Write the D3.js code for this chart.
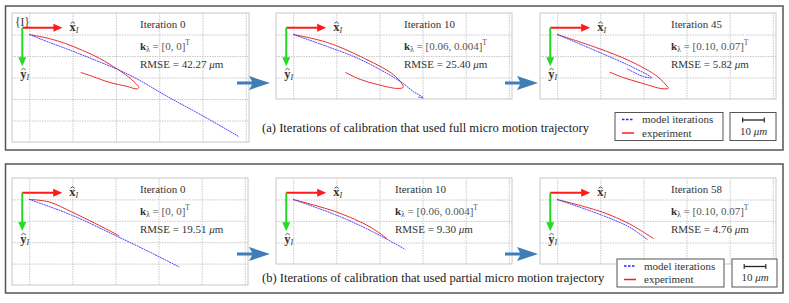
<!DOCTYPE html>
<html><head><meta charset="utf-8">
<script src="https://cdn.jsdelivr.net/npm/d3@7"></script>
<style>body{margin:0;background:#fff}</style>
</head><body><svg id="c" width="789" height="303"></svg>
<script>
// ---------------- data ----------------
const iterations = [0, 10, 45, 0, 10, 58];
const kLambda = ["[0, 0]", "[0.06, 0.004]", "[0.10, 0.07]", "[0, 0]", "[0.06, 0.004]", "[0.10, 0.07]"];
const rmse = ["42.27", "25.40", "5.82", "19.51", "9.30", "4.76"];
const captions = [
  "(a) Iterations of calibration that used full micro motion trajectory",
  "(b) Iterations of calibration that used partial micro motion trajectory"
];
const legendLabels = ["model iterations", "experiment"];
const scaleLabelValue = 10;
const xTicks = [0, 20, 40, 60, 80, 100];
const yTicksTall = [-10, 0, 10, 20, 30, 40, 50];
const yTicksMid = [-10, 0, 10, 20, 30, 40];
const yTicksShort = [-10, 0, 10, 20, 30];

// model trajectories (µm, relative to start)
const modelA0 = [[0,0],[9.3,3.7],[18.6,7.2],[27.9,10.9],[40.9,16.3],[50.2,20.9],[63.7,28.8],[79,37.2],[96.7,47.4]];
const modelA1 = [[0,0],[15.8,5.6],[31.1,11.6],[49.6,21.8],[55.7,26.5],[60.3,29.4],[57.8,29.0]];
const modelA2 = [[0,0],[18.4,7.8],[33.9,14.7],[43.9,20.1],[40.1,19.6],[32.3,15.9]];
const modelB0 = [[0,0],[19.8,7.4],[39.6,16.7],[55.7,24.5],[69.6,31.6]];
const modelB1 = [[0,0],[20.3,7.4],[35.7,14.4],[52,23.2]];
const modelB2 = [[0,0],[21,7.4],[33.4,12.8],[41.9,18.7]];
// experiment trajectories
const expA0 = [[0,0],[4.6,0.9],[9.3,1.9],[16.7,4.2],[24.6,7.4],[32.5,11.1],[40.8,16.2],[45.5,19.5],[48.7,22.3],[50.6,24.6],[49.7,25.3],[45,24.1],[37.1,22.3],[29.2,19.5],[23.7,17.6]];
const expA1 = [[0,0],[15.8,3.7],[31.1,10.2],[46.4,18.6],[50.6,23.2],[51.0,24.6],[48.3,25.1],[38.9,23.2],[31.1,20.9],[24.1,17.6]];
const expA2 = [[0,0],[18.4,6.2],[33.9,12.4],[46.3,19.4],[50.9,24],[51.5,25],[48.6,25.2],[38.5,22.4],[30.8,20.1],[24.3,17.5]];
const expB0 = [[0,0],[9.3,1.2],[19.8,5.9],[29.2,10.5],[40.2,16.2],[41.8,17.1]];
const expB1 = [[0,0],[20.3,5.9],[35.7,12.8],[43.5,18.2]];
const expB2 = [[0,0],[21,5.9],[33.4,11.3],[44.7,18.2]];

const models = [modelA0, modelA1, modelA2, modelB0, modelB1, modelB2];
const experiments = [expA0, expA1, expA2, expB0, expB1, expB2];
const yTickSets = [yTicksTall, yTicksShort, yTicksShort, yTicksMid, yTicksShort, yTicksShort];
const xDomain = [-8, 101.5];

// ---------------- layout ----------------
const layout = [
  {l:12, t:13, r:249, b:142, textX:128},
  {l:276, t:13, r:512, b:99, textX:128},
  {l:540, t:13, r:776, b:99, textX:131},
  {l:12, t:178, r:248, b:285, textX:128},
  {l:276, t:178, r:512, b:264, textX:119},
  {l:540, t:178, r:776, b:264, textX:131}
];
const SERIF = "'Liberation Serif','Times New Roman',Times,serif";
const TXT = "#333";
const svg = d3.select("#c");

// outer boxes
[[5.5, 6, 783, 150], [5.5, 164, 783, 293]].forEach(([x0,y0,x1,y1]) => {
  svg.append("rect").attr("x", x0).attr("y", y0).attr("width", x1-x0).attr("height", y1-y0)
    .attr("fill", "none").attr("stroke", "#555").attr("stroke-width", 1.5);
});

function hatLabel(g, x, y, letter) {
  const t = g.append("text").attr("x", x).attr("y", y).attr("font-family", SERIF)
    .attr("font-size", 12.5).attr("fill", TXT);
  t.append("tspan").attr("font-weight", "bold").text(letter);
  t.append("tspan").attr("font-style", "italic").attr("font-size", 8).attr("dy", 2).text("I");
  const hx = x + 3.3, hy = y - 9.5;
  g.append("path").attr("d", `M${hx-2.2},${hy+1.6} L${hx},${hy} L${hx+2.2},${hy+1.6}`)
    .attr("fill", "none").attr("stroke", TXT).attr("stroke-width", 0.8);
}

models.forEach((model, i) => {
  const L = layout[i];
  const yT = yTickSets[i];
  const x = d3.scaleLinear().domain(xDomain).range([L.l, L.r]);
  const y = d3.scaleLinear().domain([yT[0], yT[yT.length-1]]).range([L.t, L.b]);
  const g = svg.append("g");
  // grid
  g.append("g").attr("transform", `translate(0,${L.b})`)
    .call(d3.axisBottom(x).tickValues(xTicks).tickSize(-(L.b - L.t)).tickFormat(""))
    .call(a => { a.select(".domain").remove(); a.selectAll("line").attr("stroke", "#c8c8c8").attr("stroke-dasharray", "1.5,1"); });
  g.append("g").attr("transform", `translate(${L.l},0)`)
    .call(d3.axisLeft(y).tickValues(yT.slice(1, -1)).tickSize(-(L.r - L.l)).tickFormat(""))
    .call(a => { a.select(".domain").remove(); a.selectAll("line").attr("stroke", "#c8c8c8").attr("stroke-dasharray", "1.5,1"); });
  g.append("rect").attr("x", L.l).attr("y", L.t).attr("width", L.r - L.l).attr("height", L.b - L.t)
    .attr("fill", "none").attr("stroke", "#c8c8c8").attr("stroke-width", 1);

  const line = d3.line().x(d => x(d[0])).y(d => y(d[1])).curve(d3.curveCatmullRom.alpha(0.5));
  g.append("path").attr("d", line(experiments[i])).attr("fill", "none")
    .attr("stroke", "#ee2a2a").attr("stroke-width", 1);
  g.append("path").attr("d", line(model)).attr("fill", "none")
    .attr("stroke", "#3333ff").attr("stroke-width", 0.9).attr("stroke-dasharray", "2,0.6");

  // coordinate frame
  const ox = x(-3.25), oy = y(-3.1);
  const xe = x(15.3), ye = y(14.8);
  g.append("line").attr("x1", ox).attr("y1", oy).attr("x2", xe - 7).attr("y2", oy)
    .attr("stroke", "#ff1a1a").attr("stroke-width", 2);
  g.append("path").attr("d", `M${xe},${oy} L${xe-9},${oy-4} L${xe-9},${oy+4} Z`).attr("fill", "#ff1a1a");
  g.append("line").attr("x1", ox).attr("y1", oy).attr("x2", ox).attr("y2", ye - 7)
    .attr("stroke", "#22dd22").attr("stroke-width", 2);
  g.append("path").attr("d", `M${ox},${ye} L${ox-4},${ye-9} L${ox+4},${ye-9} Z`).attr("fill", "#22dd22");
  hatLabel(g, xe + 7, oy + 3.5, "x");
  hatLabel(g, ox - 2, oy + 50, "y");
  if (i === 0) {
    g.append("text").attr("x", L.l + 3).attr("y", L.t + 13).attr("font-family", SERIF)
      .attr("font-size", 11.5).attr("fill", TXT).text("{I}");
  }

  // annotations
  const tx = L.l + L.textX;
  g.append("text").attr("x", tx).attr("y", L.t + 15).attr("font-family", SERIF).attr("font-size", 11)
    .attr("fill", TXT).text("Iteration " + iterations[i]);
  const kt = g.append("text").attr("x", tx).attr("y", L.t + 37).attr("font-family", SERIF)
    .attr("font-size", 11).attr("fill", TXT);
  kt.append("tspan").attr("font-weight", "bold").text("k");
  kt.append("tspan").attr("font-size", 7.5).attr("dy", 2).text("\u03BB");
  kt.append("tspan").attr("dy", -2).attr("fill", "#555").text(" = " + kLambda[i]);
  kt.append("tspan").attr("font-size", 7.5).attr("dy", -5).attr("fill", "#555").text("T");
  const rt = g.append("text").attr("x", tx).attr("y", L.t + 55).attr("font-family", SERIF)
    .attr("font-size", 11).attr("fill", TXT);
  rt.append("tspan").text("RMSE = " + rmse[i] + " ");
  rt.append("tspan").attr("font-style", "italic").text("\u03BC");
  rt.append("tspan").text("m");
});

// transition arrows
[[237, 83], [505, 83], [237, 254], [505, 254]].forEach(([ax, ay]) => {
  svg.append("path")
    .attr("d", `M${ax},${ay-1.6} L${ax+15},${ay-1.6} L${ax+12},${ay-7} L${ax+33},${ay} L${ax+12},${ay+7} L${ax+15},${ay+1.6} L${ax},${ay+1.6} Z`)
    .attr("fill", "#3f7db6");
});

// captions
[[262, 132], [262, 282]].forEach(([cx, cy], k) => {
  svg.append("text").attr("x", cx).attr("y", cy).attr("font-family", SERIF).attr("font-size", 12.6)
    .attr("fill", "#222").text(captions[k]);
});

// legends and scale bars
const sx = d3.scaleLinear().domain(xDomain).range([layout[0].l, layout[0].r]);
[{lx0:615, lx1:723, sx0:730, sx1:776, y0:112.5, y1:140.5}, {lx0:617, lx1:724, sx0:732, sx1:777, y0:259, y1:287}].forEach(B => {
  svg.append("rect").attr("x", B.lx0).attr("y", B.y0).attr("width", B.lx1 - B.lx0).attr("height", B.y1 - B.y0)
    .attr("fill", "#fff").attr("stroke", "#555").attr("stroke-width", 1);
  svg.append("rect").attr("x", B.sx0).attr("y", B.y0).attr("width", B.sx1 - B.sx0).attr("height", B.y1 - B.y0)
    .attr("fill", "#fff").attr("stroke", "#555").attr("stroke-width", 1);
  const r1 = B.y0 + 7, r2 = B.y0 + 20.5;
  svg.append("line").attr("x1", B.lx0 + 7).attr("x2", B.lx0 + 19).attr("y1", r1).attr("y2", r1)
    .attr("stroke", "#2222ff").attr("stroke-width", 1.5).attr("stroke-dasharray", "2.5,1.5");
  svg.append("line").attr("x1", B.lx0 + 7).attr("x2", B.lx0 + 19).attr("y1", r2).attr("y2", r2)
    .attr("stroke", "#ee2222").attr("stroke-width", 1.5);
  svg.append("text").attr("x", B.lx0 + 27).attr("y", r1 + 3.8).attr("font-family", SERIF).attr("font-size", 11)
    .attr("fill", TXT).text(legendLabels[0]);
  svg.append("text").attr("x", B.lx0 + 27).attr("y", r2 + 3.8).attr("font-family", SERIF).attr("font-size", 11)
    .attr("fill", TXT).text(legendLabels[1]);
  const bw = sx(scaleLabelValue) - sx(0);
  const bc = (B.sx0 + B.sx1) / 2 + 0.5;
  const by = B.y0 + 7.5;
  svg.append("line").attr("x1", bc - bw/2).attr("x2", bc + bw/2).attr("y1", by).attr("y2", by)
    .attr("stroke", "#222").attr("stroke-width", 1.3);
  [bc - bw/2, bc + bw/2].forEach(px => svg.append("line").attr("x1", px).attr("x2", px)
    .attr("y1", by - 2.5).attr("y2", by + 2.5).attr("stroke", "#222").attr("stroke-width", 1.1));
  const st = svg.append("text").attr("x", bc).attr("y", B.y0 + 22).attr("text-anchor", "middle")
    .attr("font-family", SERIF).attr("font-size", 11).attr("fill", TXT);
  st.append("tspan").text(scaleLabelValue + " ");
  st.append("tspan").attr("font-style", "italic").text("\u03BCm");
});
</script></body></html>
